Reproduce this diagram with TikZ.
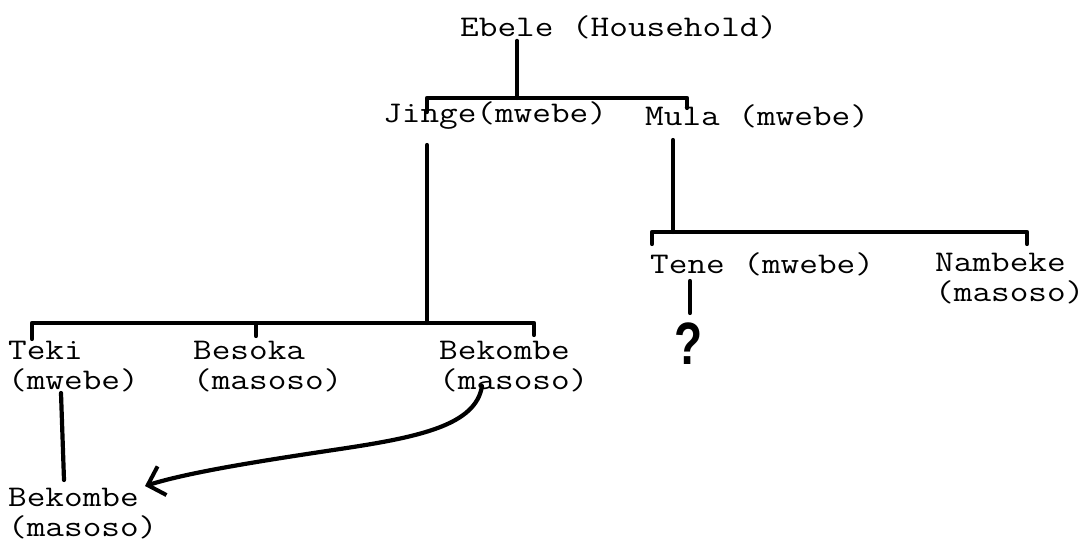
\documentclass[tikz,border=0pt]{standalone}
\usepackage{fontspec}
\newfontfamily\tw{Latin Modern Mono}[FakeStretch=1.207]
\newfontfamily\qf{Liberation Sans}
\usetikzlibrary{arrows.meta}
\begin{document}
\begin{tikzpicture}[x=1pt,y=-1pt,
  lbl/.style={font=\tw\fontsize{30}{30}\selectfont, inner sep=0pt, anchor=west, align=left},
  tl/.style={line width=4.2pt, line cap=round, line join=round},
  arr/.style={tl, -{Straight Barb[length=15pt,width=30pt,line width=4pt]}}]
\useasboundingbox (0,0) rectangle (1090,546);
% nodes
\node[lbl] (ebele) at (460,27) {Ebele (Household)};
\node[lbl] (jinge) at (383,116) {Jinge(mwebe)};
\node[lbl] (mula) at (645,116) {Mula (mwebe)};
\node[lbl] (tene) at (650,264) {Tene (mwebe)};
\node[lbl] (nambeke) at (935,279) {Nambeke\\(masoso)};
\node[lbl] (teki) at (8,367) {Teki\\(mwebe)};
\node[lbl] (besoka) at (193,367) {Besoka\\(masoso)};
\node[lbl] (bekA) at (439,367) {Bekombe\\(masoso)};
\node[lbl] (bekB) at (8,514) {Bekombe\\(masoso)};
\node[font=\qf\bfseries\fontsize{46}{46}\selectfont, inner sep=0pt, yscale=1.3] (q) at (689,344) {?};
% junction coordinates
\coordinate (t1l) at (427,98);
\coordinate (t1m) at (517,98);
\coordinate (t1r) at (687,98);
\coordinate (t1lt) at (427,112);
\coordinate (t1rt) at (687,108);
\coordinate (jl) at (427,145);
\coordinate (ml) at (673,140);
\coordinate (r1l) at (652,232);
\coordinate (r1m) at (673,232);
\coordinate (r1r) at (1027,232);
\coordinate (r1lt) at (652,244);
\coordinate (r1rt) at (1027,244);
\coordinate (l1l) at (32,323);
\coordinate (l1m) at (427,323);
\coordinate (l1b) at (256,323);
\coordinate (l1r) at (534,323);
\coordinate (l1lt) at (32,339);
\coordinate (l1bt) at (256,336);
\coordinate (l1rt) at (534,335);
\coordinate (tk1) at (61,393);
\coordinate (tk2) at (64,480);
\coordinate (tn1) at (690,281);
\coordinate (tn2) at (690,313);
\coordinate (a1) at (482,386);
\coordinate (a2) at (145,486);
% connectors
\draw[tl] (ebele.south -| t1m) ++(0,2) -- (t1m);
\draw[tl] (t1lt) -- (t1l) -- (t1r) -- (t1rt);
\draw[tl] (jl) -- (l1m);
\draw[tl] (ml) -- (r1m);
\draw[tl] (r1lt) -- (r1l) -- (r1r) -- (r1rt);
\draw[tl] (l1lt) -- (l1l) -- (l1r) -- (l1rt);
\draw[tl] (l1b) -- (l1bt);
\draw[tl] (tk1) -- (tk2);
\draw[tl] (tn1) -- (tn2);
\draw[arr] (a1) .. controls (476,425) and (420,437) .. (340,449)
  .. controls (260,461) and (190,472) .. (a2);
\end{tikzpicture}
\end{document}
